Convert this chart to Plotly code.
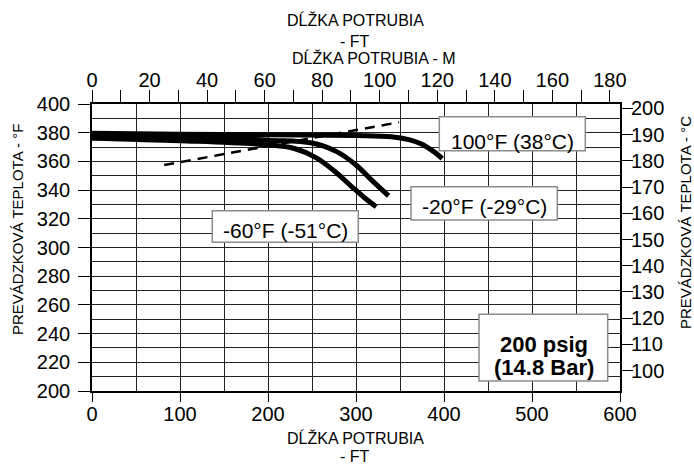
import plotly.graph_objects as go

# ---------------- data ----------------
ft_ticks = [0, 100, 200, 300, 400, 500, 600]
f_ticks = list(range(200, 401, 20))
c_ticks = list(range(100, 201, 10))
m_ticks = list(range(0, 181, 10))
m_labels = [str(v) if v % 20 == 0 else "" for v in m_ticks]

len_100 = [0, 100, 200, 300, 340, 360, 375, 388, 398]
temp_100 = [379.7, 379.0, 378.5, 378.0, 377.2, 375.2, 372.0, 367.0, 362.0]

len_m20 = [0, 100, 200, 250, 278, 300, 316, 337]
temp_m20 = [378.0, 377.0, 374.8, 372.8, 366.8, 357.5, 348.0, 336.0]

len_m60 = [0, 100, 200, 230, 255, 275, 295, 310, 323]
temp_m60 = [376.2, 374.4, 371.5, 369.0, 362.5, 353.5, 342.5, 334.5, 328.4]

dash_len = [82, 349]
dash_temp = [357.5, 387.3]

curve_labels = ["100°F (38°C)", "-20°F (-29°C)", "-60°F (-51°C)"]
psig_lines = ["200 psig", "(14.8 Bar)"]
x_title = "DĹŽKA POTRUBIA"
x_title2 = "- FT"
m_title = "DĹŽKA POTRUBIA - M"
yf_title = "PREVÁDZKOVÁ TEPLOTA - °F"
yc_title = "PREVÁDZKOVÁ TEPLOTA - °C"

# ---------------- layout helpers ----------------
W, H = 694, 466
PL, PR, PT, PB = 92, 620, 104, 391          # plot area in pixels
L, R, T, B = PL, W - PR, PT, H - PB
PW, PH = PR - PL, PB - PT
FONT = "Liberation Sans, Arial, sans-serif"


def px(x):
    return (x - PL) / PW


def py(y):
    return (PB - y) / PH


fig = go.Figure()

for xs, ys in [(len_100, temp_100), (len_m20, temp_m20), (len_m60, temp_m60)]:
    fig.add_trace(go.Scatter(x=xs, y=ys, mode="lines",
                             line=dict(color="black", width=5, shape="spline", smoothing=1.0),
                             showlegend=False, hoverinfo="skip"))

fig.add_trace(go.Scatter(x=dash_len, y=dash_temp, mode="lines",
                         line=dict(color="black", width=2.5, dash="10px,7px"),
                         showlegend=False, hoverinfo="skip"))

# invisible trace to anchor secondary axes
fig.add_trace(go.Scatter(x=[0], y=[150], xaxis="x2", yaxis="y2", mode="markers",
                         marker=dict(opacity=0), showlegend=False, hoverinfo="skip"))

GC, GW = "#222222", 1.4

fig.update_layout(
    width=W, height=H,
    margin=dict(l=L, r=R, t=T, b=B, autoexpand=False),
    paper_bgcolor="white", plot_bgcolor="white",
    font=dict(family=FONT, color="black", size=20),
    xaxis=dict(range=[0, 600], tickvals=ft_ticks, ticks="outside", ticklen=9,
               tickwidth=1.4, tickcolor="black", automargin=False,
               ticklabelstandoff=-5,
               showgrid=True, gridcolor=GC, gridwidth=GW,
               minor=dict(dtick=50, showgrid=True, gridcolor=GC, gridwidth=GW),
               showline=True, linecolor="black", linewidth=1.6, mirror=True,
               zeroline=False, tickfont=dict(size=20)),
    yaxis=dict(range=[200, 400], tickvals=f_ticks, ticks="outside", ticklen=12,
               tickwidth=1.4, tickcolor="black", automargin=False,
               ticklabelstandoff=4,
               showgrid=True, gridcolor=GC, gridwidth=GW,
               minor=dict(dtick=10, showgrid=True, gridcolor=GC, gridwidth=GW),
               showline=True, linecolor="black", linewidth=1.6, mirror=True,
               zeroline=False, tickfont=dict(size=20)),
    xaxis2=dict(overlaying="x", side="top", range=[0, 183.5], tickvals=m_ticks,
                ticktext=m_labels, ticks="outside", ticklen=13, tickwidth=1.4,
                tickcolor="black", showgrid=False, zeroline=False, showline=False,
                automargin=False, ticklabelstandoff=-5, tickfont=dict(size=20)),
    yaxis2=dict(overlaying="y", side="right", range=[92.25, 201.65], tickvals=c_ticks,
                ticks="outside", ticklen=12, tickwidth=1.4, tickcolor="black",
                showgrid=False, zeroline=False, showline=False,
                automargin=False, ticklabelstandoff=-6, tickfont=dict(size=20)),
)

annotations = []
shapes = []


def text(s, x, y, size=16, bold=False, angle=0):
    annotations.append(dict(text=("<b>%s</b>" % s) if bold else s, x=px(x), y=py(y),
                            xref="paper", yref="paper", showarrow=False,
                            xanchor="center", yanchor="middle", textangle=angle,
                            font=dict(family=FONT, size=size, color="black")))


def box(x0, y0, x1, y1):
    shapes.append(dict(type="rect", xref="paper", yref="paper",
                       x0=px(x0), x1=px(x1), y0=py(y1), y1=py(y0),
                       line=dict(color="#8c8c8c", width=1.5), fillcolor="white",
                       layer="above"))


# titles
text(x_title, 355, 20)
text(x_title2, 355, 41)
text(m_title, 374, 58)
text(x_title, 355, 438)
text(x_title2, 355, 456)
text(yf_title, 17, 230, size=15, angle=-90)
text(yc_title, 685, 223, size=15, angle=-90)

# curve labels
box(439.3, 116.7, 585.3, 150.7)
text(curve_labels[0], 512, 141, size=21)
box(411, 186.7, 557.3, 220)
text(curve_labels[1], 484, 206.5, size=21)
box(212.3, 210.7, 358.3, 242.3)
text(curve_labels[2], 285.3, 230.5, size=21)

# pressure label
box(479, 314.3, 607.7, 381)
text(psig_lines[0], 544, 344, size=22, bold=True)
text(psig_lines[1], 543.5, 367.5, size=22, bold=True)

fig.update_layout(annotations=annotations, shapes=shapes)

# the page body has a default 8px margin; remove it so the figure fills the window
fig.write_html("out.html", config={"displayModeBar": False},
               post_script="document.body.style.margin='0px';")
